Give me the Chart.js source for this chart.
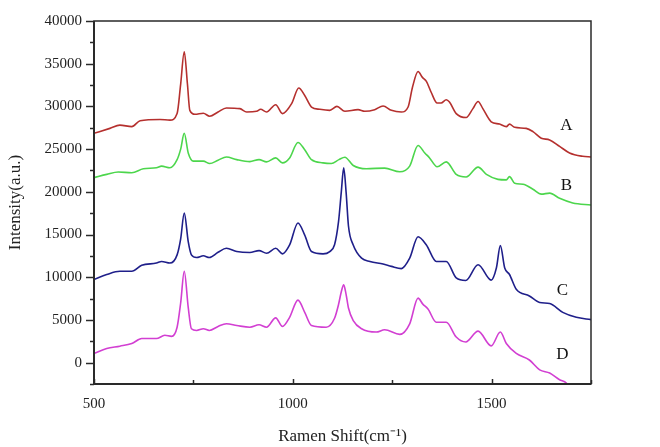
<!DOCTYPE html>
<html>
<head>
<meta charset="utf-8">
<script src="https://cdn.jsdelivr.net/npm/chart.js@4"></script>
<style>
  html, body { margin: 0; padding: 0; background: #fff; }
</style>
</head>
<body>
<canvas id="grafica" width="660" height="447"></canvas>
<script>
// ==============================
// Datos
// ==============================
const aX = [500,540,565,595,616,666,691,709,718,727,735,741,754,775,791,812,833,867,884,909,919,934,957,974,997,1015,1030,1047,1068,1093,1111,1131,1164,1181,1206,1227,1248,1273,1290,1301,1315,1326,1336,1348,1363,1373,1386,1394,1411,1436,1453,1466,1478,1499,1520,1537,1545,1558,1587,1604,1625,1646,1671,1696,1729,1750];
const aY = [26850,27430,27810,27630,28320,28470,28390,29160,32620,36400,32620,29540,29080,29200,28850,29350,29820,29740,29350,29430,29660,29350,30200,29160,30320,32160,31270,29930,29660,29540,30000,29430,29620,29430,29620,30050,29540,29350,29930,32240,34090,33400,32930,31660,30400,30400,30780,30510,29160,28700,29740,30580,29740,28200,27930,27630,27930,27550,27430,27050,26280,26080,25320,24550,24160,24080];

const bX = [500,532,561,595,624,657,670,691,709,718,727,737,750,775,791,812,833,859,892,915,934,957,974,992,1013,1030,1047,1076,1097,1116,1131,1152,1185,1231,1269,1294,1315,1332,1344,1363,1386,1411,1436,1466,1487,1516,1537,1545,1558,1579,1604,1625,1646,1671,1704,1750];
const bY = [21660,22040,22320,22240,22700,22820,23010,22820,23770,25000,26850,24550,23590,23590,23310,23700,24080,23770,23540,23770,23510,23970,23390,23970,25780,24930,23770,23390,23310,23770,24050,23080,22700,22780,22350,23010,25430,24550,23970,22930,23510,22040,21740,22890,22040,21460,21400,21780,21000,20890,20310,19730,19850,19240,18700,18460];

const cX = [500,532,565,595,620,657,670,691,709,718,727,737,745,758,775,790,812,833,859,892,915,934,957,974,992,1013,1030,1047,1076,1093,1105,1115,1122,1128,1134,1140,1152,1173,1194,1227,1248,1273,1294,1315,1336,1361,1386,1411,1435,1466,1499,1512,1522,1533,1545,1562,1595,1621,1646,1679,1713,1750];
const cY = [9740,10320,10700,10700,11390,11660,11850,11660,12620,14500,17510,14160,12620,12310,12510,12310,12920,13390,13010,12890,13120,12810,13390,12740,13780,16350,14930,13010,12740,13010,13800,16500,20000,22800,20000,16000,13780,12230,11850,11540,11270,11010,12230,14740,13780,11850,11850,9920,9620,11470,9660,11080,13700,11080,10320,8590,7810,7040,6920,5890,5310,5040];

const dX = [500,532,565,595,620,657,678,695,709,718,727,737,745,758,775,790,812,833,859,892,915,934,957,974,992,1013,1030,1047,1084,1105,1115,1122,1128,1134,1140,1152,1173,1210,1231,1269,1294,1315,1327,1340,1361,1386,1411,1435,1466,1499,1522,1537,1562,1595,1621,1646,1671,1688,1700];
const dY = [1080,1660,1930,2240,2820,2820,3200,3080,4150,7000,10700,6460,3970,3770,3970,3770,4240,4550,4350,4150,4430,4150,5240,4240,5310,7320,5890,4350,4150,5200,6800,8300,9100,8000,6400,4930,3970,3580,3850,3310,4550,7550,6850,6280,4730,4730,3000,2420,3690,1960,3580,2240,1080,310,-840,-1220,-2000,-2380,-3200];

const etiquetas = ["A", "B", "C", "D"];
const etiquetaX = [1688, 1688, 1678, 1678];
const etiquetaY = [27760, 20740, 8390, 1000];
const colores = ["#b5302e", "#4cd64c", "#1f1f8a", "#d23fd2"];

const xTicks = [500, 1000, 1500];
const yTicks = [0, 5000, 10000, 15000, 20000, 25000, 30000, 35000, 40000];

const FUENTE = "'Liberation Serif', 'Times New Roman', serif";

function puntos(xs, ys) {
  return xs.map((x, i) => ({ x: x, y: ys[i] }));
}

// ==============================
// Plugin: marco, ticks y letras
// ==============================
const marcoPlugin = {
  id: "marco",
  afterDatasetsDraw(chart) {
    const { ctx, chartArea: a, scales } = chart;
    const sx = scales.x, sy = scales.y;
    ctx.save();
    ctx.strokeStyle = "#2a2a2a";
    ctx.lineWidth = 1.5;
    ctx.strokeRect(a.left, a.top, a.right - a.left, a.bottom - a.top);
    ctx.lineWidth = 2;
    ctx.beginPath();
    ctx.moveTo(a.left, a.top); ctx.lineTo(a.left, a.bottom); ctx.lineTo(a.right, a.bottom);
    ctx.stroke();

    // ticks eje y (hacia fuera)
    ctx.lineWidth = 1.5;
    sy.ticks.forEach(t => {
      const py = Math.round(sy.getPixelForValue(t.value)) + 0.5;
      const len = yTicks.includes(t.value) ? 8 : 4;
      ctx.beginPath(); ctx.moveTo(a.left - len, py); ctx.lineTo(a.left, py); ctx.stroke();
    });
    // ticks eje x (hacia dentro)
    sx.ticks.forEach(t => {
      const px = Math.round(sx.getPixelForValue(t.value)) + 0.5;
      const len = xTicks.includes(t.value) ? 5 : 4;
      ctx.beginPath(); ctx.moveTo(px, a.bottom); ctx.lineTo(px, a.bottom - len); ctx.stroke();
    });

    // letras de las curvas
    ctx.fillStyle = "#111";
    ctx.font = "17px " + FUENTE;
    ctx.textAlign = "center";
    ctx.textBaseline = "middle";
    etiquetas.forEach((txt, i) => {
      ctx.fillText(txt, sx.getPixelForValue(etiquetaX[i]), sy.getPixelForValue(etiquetaY[i]));
    });
    ctx.restore();
  }
};

// ==============================
// Grafica
// ==============================
const nombres = ["A", "B", "C", "D"];
const series = [puntos(aX, aY), puntos(bX, bY), puntos(cX, cY), puntos(dX, dY)];

const ctx = document.getElementById("grafica").getContext("2d");
new Chart(ctx, {
  type: "line",
  data: {
    datasets: series.map((s, i) => ({
      label: nombres[i],
      data: s,
      borderColor: colores[i],
      borderWidth: 1.6,
      pointRadius: 0,
      fill: false,
      cubicInterpolationMode: "monotone"
    }))
  },
  options: {
    responsive: false,
    animation: false,
    layout: { padding: { left: 0, right: 69, top: 16, bottom: 0 } },
    plugins: { legend: { display: false }, tooltip: { enabled: false } },
    scales: {
      x: {
        type: "linear",
        min: 500,
        max: 1750,
        grid: { display: false, drawTicks: false },
        border: { display: false },
        ticks: {
          stepSize: 250,
          autoSkip: false,
          maxRotation: 0,
          padding: 11,
          color: "#222",
          font: { family: FUENTE, size: 15 },
          callback: v => xTicks.includes(v) ? String(v) : ""
        },
        title: {
          display: true,
          text: "Ramen Shift(cm\u207B\u00B9)",
          color: "#222",
          font: { family: FUENTE, size: 17 },
          padding: { top: 0, bottom: 0 }
        },
        afterFit: s => { s.height = 63; }
      },
      y: {
        min: -2500,
        max: 40000,
        grid: { display: false, drawTicks: false },
        border: { display: false },
        ticks: {
          stepSize: 2500,
          autoSkip: false,
          padding: 12,
          color: "#222",
          font: { family: FUENTE, size: 15 },
          callback: v => yTicks.includes(v) ? String(v) : ""
        },
        title: {
          display: true,
          text: "Intensity(a.u.)",
          color: "#222",
          font: { family: FUENTE, size: 17 },
          padding: { top: 5, bottom: 0 }
        },
        afterFit: s => { s.width = 94; }
      }
    }
  },
  plugins: [marcoPlugin]
});
</script>
</body>
</html>
